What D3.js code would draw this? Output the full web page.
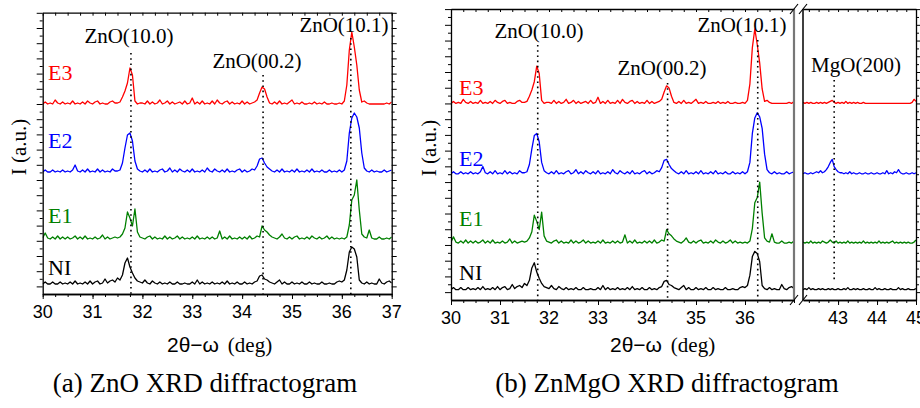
<html><head><meta charset="utf-8">
<script src="https://cdn.jsdelivr.net/npm/d3@7"></script>
</head><body style="margin:0">
<svg id="c" width="920" height="408"></svg>
<script>
// ---------- data ----------
const gridStart = 30, gridStep = 0.05;      // 30.00 .. 37.00
const gridStartMg = 42.1;                   // 42.10 .. 45.00
const seriesNames = ["NI", "E1", "E2", "E3"];
const seriesColors = ["#000000", "#008000", "#0000ff", "#ff0000"];
const seriesOffsets = [9, 54, 121, 189];

const NI = [1,3,1,1,3,1,1,3,1,2, 1,3,1,4,1,2,1,3,1,4, 1,3,4,1,2,6,2,4,5,3, 7,5,10,22,27,18,12,7,4,3,
  2,5,2,1,4,2,1,3,1,2, 1,3,1,1,3,1,1,2,1,1, 3,1,5,1,3,1,2,1,3,1, 2,1,3,1,4,1,2,1,3,1,
  1,3,1,2,1,3,4,9,10,6, 5,3,2,1,3,5,1,3,1,1, 3,1,2,1,3,1,1,3,1,2, 1,1,3,1,1,2,1,1,3,4,
  3,5,15,33,38,36,28,5,2,1, 3,1,2,1,1,6,2,1,3,4, 2];
const E1 = [2,7,2,1,3,1,4,1,3,1, 3,1,2,4,1,3,1,4,1,2, 1,3,1,2,5,1,3,1,2,3, 2,3,6,12,28,22,14,31,8,3,
  2,1,3,4,1,3,1,2,1,4, 1,3,1,2,4,1,3,1,2,1, 3,1,4,1,2,1,3,1,3,1, 2,9,1,3,1,4,1,2,1,3,
  1,3,1,4,1,2,4,3,14,10, 8,5,3,2,1,3,6,2,1,3, 1,3,4,1,2,1,3,1,4,2, 1,3,1,2,4,1,3,1,2,1,
  2,1,3,15,40,45,60,30,6,3, 2,10,2,1,1,3,1,1,2,1, 3];
const E2 = [1,3,1,1,3,1,2,1,3,1, 2,1,3,8,2,1,3,1,4,1, 2,1,4,1,3,1,2,1,4,2, 2,3,10,25,38,40,32,12,4,2,
  1,3,1,4,1,2,1,3,4,1, 2,5,1,3,1,4,2,1,3,1, 4,1,2,1,3,1,5,2,1,4, 2,1,3,1,4,1,2,1,3,4,
  1,3,1,2,4,3,7,14,15,10, 6,4,2,1,3,1,4,1,2,1, 3,1,4,1,2,1,3,1,4,1, 2,1,3,1,1,3,1,2,1,3,
  1,3,12,40,55,60,56,45,20,5, 2,1,3,1,2,1,1,3,1,2, 3];
const E3 = [1,3,1,2,1,5,2,1,3,1, 2,1,4,1,2,1,3,1,4,2, 1,3,4,1,2,1,1,3,4,2, 2,3,8,14,22,37,30,4,1,2,
  2,1,4,1,3,1,2,5,1,2, 4,1,3,1,2,3,1,4,1,2, 7,1,3,1,4,1,2,1,4,1, 5,2,1,3,4,1,3,1,2,1,
  4,1,3,1,2,3,5,12,18,16, 8,2,1,3,1,4,1,2,1,3, 5,1,2,1,3,1,1,2,1,3, 1,2,1,3,1,1,2,1,1,2,
  1,4,20,55,73,58,40,15,3,4, 2,1,1,1,1,1,1,1,2,1, 3];

const NI_mg = [1,2,1,3,1,2,1,1,2,1, 2,1,1,2,1,2,1,1,2,1, 1,2,1,3,1,1,2,1,2,1, 1,2,1,1,2,1,1,3,1,2, 1,1,2,1,1,2,1,1,1,3, 1,2,1,1,2,1,1,1,2];
const E1_mg = [2,1,2,1,3,1,2,1,2,1, 3,2,1,2,4,2,1,3,1,2, 1,2,1,3,1,2,1,2,1,2, 1,3,1,2,1,2,1,2,1,3, 1,2,1,2,1,2,3,1,2,1, 2,1,2,1,2,1,1,2,4];
const E2_mg = [1,2,1,1,2,1,2,3,2,4, 2,3,5,8,12,15,8,5,3,2, 2,1,2,1,3,1,2,1,1,2, 1,1,2,1,1,2,1,1,2,1, 1,2,1,4,1,2,1,3,2,5, 2,1,1,2,1,1,2,1,2];
const E3_mg = [2,1,2,1,2,1,1,2,1,2, 1,2,1,2,3,4,2,1,2,1, 2,1,3,1,2,1,2,1,2,1, 1,2,1,1,1,1,1,1,1,1, 1,1,1,1,1,1,1,1,1,1, 1,1,1,1,1,1,2,5,3];

const mainData = [NI, E1, E2, E3];
const mgData = [NI_mg, E1_mg, E2_mg, E3_mg];

const peakLabels = ["ZnO(10.0)", "ZnO(00.2)", "ZnO(10.1)"];
const peakPosA = [31.77, 34.42, 36.18];
const peakPosB = [31.77, 34.42, 36.26];
const mgoLabel = "MgO(200)", mgoPos = 42.9;

const xTicksA = [30, 31, 32, 33, 34, 35, 36, 37];
const xTicksB1 = [30, 31, 32, 33, 34, 35, 36];
const xTicksB2 = [43, 44, 45];
const captions = ["(a) ZnO XRD diffractogram", "(b) ZnMgO XRD diffractogram"];
const yTitle = "I (a.u.)";

// ---------- drawing ----------
const svg = d3.select("#c");
const yMax = 281.3;

function ptsFrom(arr, start, off) {
  return arr.map((v, i) => [start + i * gridStep, v + off]);
}

const textLayer = [];   // texts are appended last, directly to the svg root
function txt(s, x, y, o) {
  textLayer.push(Object.assign({s, x, y, anchor: "middle", size: 21, fam: "Liberation Serif", color: "#000"}, o || {}));
}

let clipId = 0;
function drawSegment(g, seg, y, opts) {
  const x = d3.scaleLinear().domain(seg.domain).range(seg.range);
  const [yB, yT] = y.range();
  const id = "clip" + (clipId++);
  g.append("clipPath").attr("id", id).append("rect")
    .attr("x", seg.range[0]).attr("y", yT - 20).attr("width", seg.range[1] - seg.range[0]).attr("height", yB - yT + 20);
  const line = d3.line().x(d => x(d[0])).y(d => y(d[1]));
  const tg = g.append("g").attr("clip-path", `url(#${id})`);
  seg.data.forEach((arr, k) => {
    tg.append("path").datum(ptsFrom(arr, seg.start, seriesOffsets[k]))
      .attr("d", line).attr("fill", "none").attr("stroke", seriesColors[k])
      .attr("stroke-width", 1.3).attr("stroke-linejoin", "round");
  });
  const minor = d3.range(Math.ceil(seg.domain[0] * 4) / 4, seg.domain[1] + 1e-6, 0.25);
  g.append("g").attr("transform", `translate(0,${yB})`)
    .call(d3.axisBottom(x).tickValues(minor).tickSize(3).tickSizeOuter(0).tickFormat(""));
  g.append("g").attr("transform", `translate(0,${yB})`)
    .call(d3.axisBottom(x).tickValues(seg.ticks).tickSize(5).tickSizeOuter(0).tickFormat(""));
  seg.ticks.forEach(t => txt(String(t), x(t), yB + 24, {fam: "Liberation Sans", size: 18}));
  g.append("g").attr("transform", `translate(0,${yT})`)
    .call(d3.axisBottom(x).tickValues(minor).tickSize(3).tickSizeOuter(0).tickFormat(""));
  const yt = d3.range(7.6, yMax, 7.6);
  if (opts.leftTicks) {
    g.append("g").attr("transform", `translate(${seg.range[0]},0)`)
      .call(d3.axisLeft(y).tickValues(yt).tickSize(4).tickSizeOuter(0).tickFormat(""))
      .call(a => a.selectAll(".tick line").attr("x2", (d, i) => i % 2 ? -3 : -6));
  } else {
    g.append("line").attr("x1", seg.range[0]).attr("x2", seg.range[0]).attr("y1", yT).attr("y2", yB)
      .attr("stroke", "#000").attr("stroke-width", 1.5);
  }
  if (opts.rightTicks) {
    g.append("g").attr("transform", `translate(${seg.range[1]},0)`)
      .call(d3.axisLeft(y).tickValues(yt).tickSize(-4).tickSizeOuter(0).tickFormat(""))
      .call(a => a.selectAll(".tick line").attr("x2", (d, i) => i % 2 ? 3 : 5));
  } else {
    g.append("line").attr("x1", seg.range[1]).attr("x2", seg.range[1]).attr("y1", yT).attr("y2", yB)
      .attr("stroke", "#777").attr("stroke-width", 2.2);
  }
  g.selectAll(".domain").attr("stroke", "#000").attr("stroke-width", 1.3);
  g.selectAll(".tick line").attr("stroke", "#000");
  return x;
}

function dotted(g, x, y1, y2) {
  g.append("line").attr("x1", x).attr("x2", x).attr("y1", y1).attr("y2", y2)
    .attr("stroke", "#000").attr("stroke-width", 1.6).attr("stroke-dasharray", "1.6,3.6");
}

// ---- panel (a)
{
  const g = svg.append("g");
  const y = d3.scaleLinear().domain([0, yMax]).range([294, 12.7]);
  const x = drawSegment(g, {domain: [30, 37], range: [42.7, 391.7], start: gridStart, data: mainData, ticks: xTicksA}, y,
    {leftTicks: true, rightTicks: true});
  const lab = [[129, 43, 53], [257, 68, 75], [344, 32, 38]];
  peakPosA.forEach((p, i) => {
    dotted(g, x(p), lab[i][2], 294);
    txt(peakLabels[i], lab[i][0], lab[i][1]);
  });
  const sl = [275, 223, 148, 80];
  seriesNames.forEach((n, k) => txt(n, 48, sl[k], {color: seriesColors[k], anchor: "start", size: 22}));
  txt(yTitle, 26, 147, {rot: true});
  txt("2θ−ω", 193, 352, {fam: "Liberation Sans"});
  txt("(deg)", 250, 352);
  txt(captions[0], 205, 392, {size: 27});
}

// ---- panel (b)
{
  const g = svg.append("g");
  const y = d3.scaleLinear().domain([0, yMax]).range([300, 9]);
  const x1 = drawSegment(g, {domain: [30, 37], range: [451, 794], start: gridStart, data: mainData, ticks: xTicksB1}, y,
    {leftTicks: true, rightTicks: false});
  const x2 = drawSegment(g, {domain: [42.1, 45], range: [803, 916], start: gridStartMg, data: mgData, ticks: xTicksB2}, y,
    {leftTicks: false, rightTicks: true});
  const lab = [[539, 38, 45], [662, 75, 83], [742, 32, 40]];
  peakPosB.forEach((p, i) => {
    dotted(g, x1(p), lab[i][2], 300);
    txt(peakLabels[i], lab[i][0], lab[i][1]);
  });
  dotted(g, x2(mgoPos), 80, 282);
  txt(mgoLabel, 856, 72);
  const sl = [280, 226, 166, 95];
  seriesNames.forEach((n, k) => txt(n, 459, sl[k], {color: seriesColors[k], anchor: "start", size: 22}));
  txt(yTitle, 436, 148, {rot: true});
  [9, 300].forEach(yy => {
    [794, 803].forEach(xx => {
      g.append("line").attr("x1", xx - 4).attr("y1", yy + 5).attr("x2", xx + 4).attr("y2", yy - 5)
        .attr("stroke", "#000").attr("stroke-width", 1.2);
    });
  });
  txt("2θ−ω", 636, 352, {fam: "Liberation Sans"});
  txt("(deg)", 693, 352);
  txt(captions[1], 667, 392, {size: 27});
}

// ---- all texts, appended to the root exactly like a plain text line
textLayer.forEach(t => {
  const el = svg.append("text")
    .attr("x", t.rot ? 0 : t.x).attr("y", t.rot ? 0 : t.y)
    .style("font-family", `"${t.fam}"`).style("font-size", t.size + "px")
    .attr("text-anchor", t.anchor).attr("fill", t.color).text(t.s);
  if (t.rot) el.attr("transform", `translate(${t.x},${t.y}) rotate(-90)`);
});
</script>
</body></html>
